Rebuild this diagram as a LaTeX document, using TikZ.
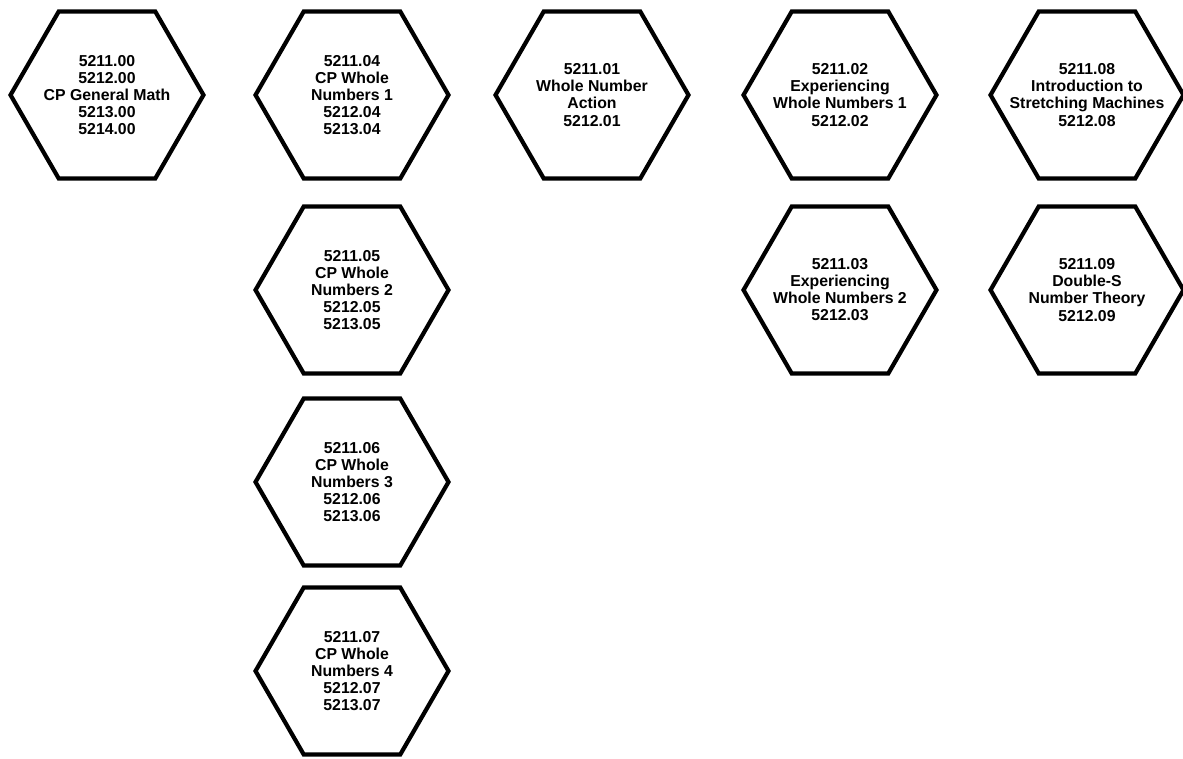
\documentclass[tikz,border=0pt]{standalone}
\usepackage{fontspec}
\newfontfamily\hexfont{Liberation Sans}
\usetikzlibrary{shapes.geometric}

\begin{document}
\begin{tikzpicture}[x=0.02cm,y=0.02cm,
  hexnode/.style={draw,regular polygon,regular polygon sides=6,minimum size=3.86cm,
    inner xsep=-12pt,inner ysep=0pt,line width=2.4pt,align=center,
    font=\hexfont\bfseries\fontsize{9}{9.7}\selectfont}]
  \useasboundingbox (0,0) rectangle (1183,758);
  % top row
  \node[hexnode] (genmath) at (107,663) {5211.00\\5212.00\\CP General Math\\5213.00\\5214.00};
  \node[hexnode] (cpwhole1) at (352,663) {5211.04\\CP Whole\\Numbers 1\\5212.04\\5213.04};
  \node[hexnode] (action) at (592,663) {5211.01\\Whole Number\\Action\\5212.01};
  \node[hexnode] (exper1) at (840,663) {5211.02\\Experiencing\\Whole Numbers 1\\5212.02};
  \node[hexnode] (stretch) at (1087,663) {5211.08\\Introduction to\\Stretching Machines\\5212.08};
  % second row
  \node[hexnode] (cpwhole2) at (352,468) {5211.05\\CP Whole\\Numbers 2\\5212.05\\5213.05};
  \node[hexnode] (exper2) at (840,468) {5211.03\\Experiencing\\Whole Numbers 2\\5212.03};
  \node[hexnode] (doubles) at (1087,468) {5211.09\\Double-S\\Number Theory\\5212.09};
  % lower column
  \node[hexnode] (cpwhole3) at (352,276) {5211.06\\CP Whole\\Numbers 3\\5212.06\\5213.06};
  \node[hexnode] (cpwhole4) at (352,87) {5211.07\\CP Whole\\Numbers 4\\5212.07\\5213.07};
\end{tikzpicture}
\end{document}
